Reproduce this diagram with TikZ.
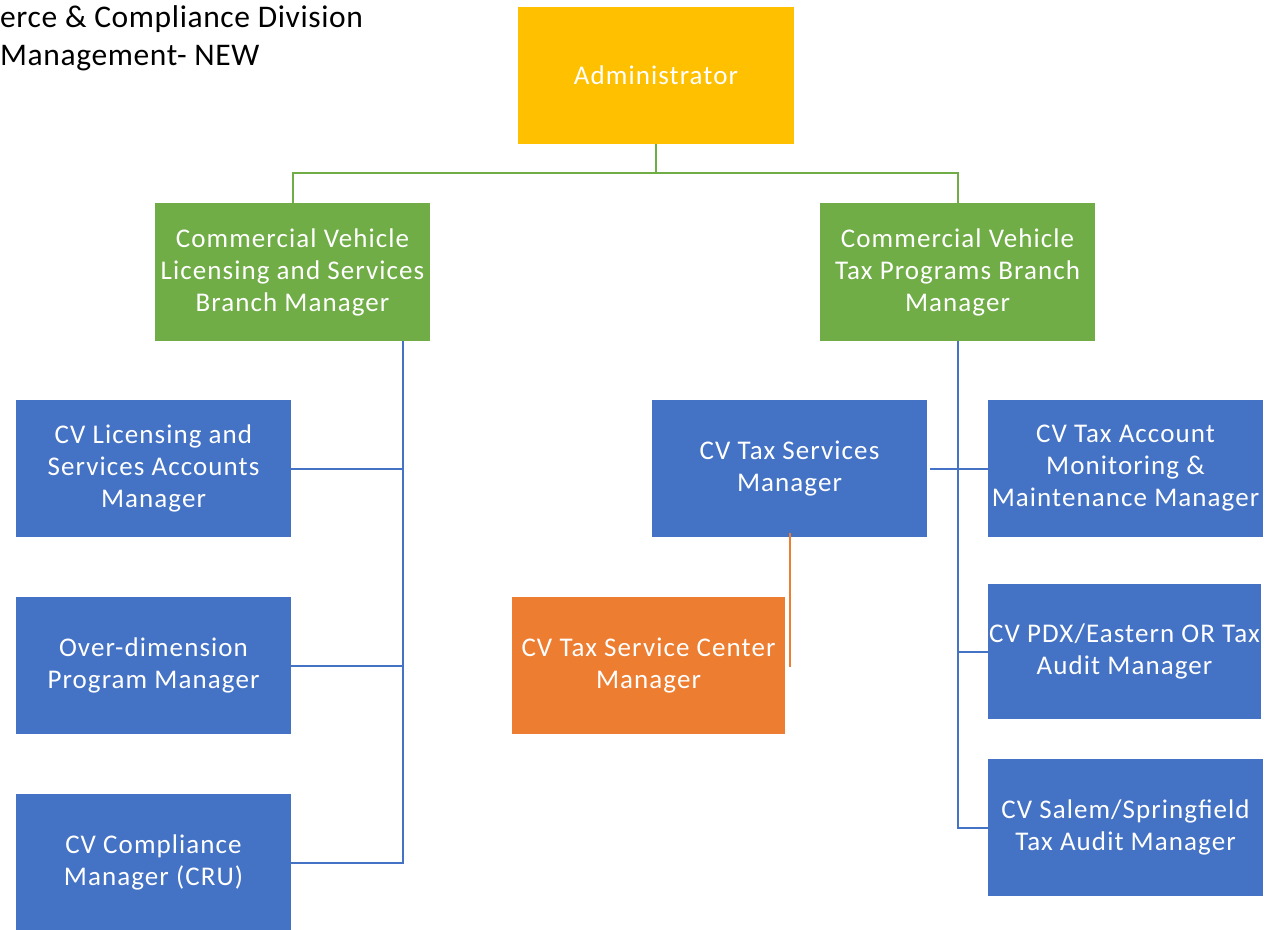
\documentclass[tikz,border=0pt]{standalone}
\usepackage{fontspec}
\setmainfont{Carlito}
\newfontfamily\boxfont[LetterSpace=4]{Carlito}
\newfontfamily\titlefont[LetterSpace=2]{Carlito}
\definecolor{cblue}{HTML}{4472C4}
\definecolor{cgreen}{HTML}{70AD47}
\definecolor{corange}{HTML}{ED7D31}
\definecolor{cgold}{HTML}{FFC000}
\begin{document}
\begin{tikzpicture}[x=1pt,y=-1pt,
  box/.style={rectangle,inner sep=0pt,text=white,align=center,
    font=\boxfont\fontsize{27}{32}\selectfont,minimum width=275pt,minimum height=137pt},
  bl/.style={box,fill=cblue},
  gr/.style={box,fill=cgreen,minimum height=138pt},
  og/.style={box,fill=corange,minimum width=273pt},
  au/.style={box,fill=cgold,minimum width=276pt},
  bline/.style={draw=cblue,line width=2pt},
  gline/.style={draw=cgreen,line width=2pt},
  oline/.style={draw=corange,line width=2pt}]
\useasboundingbox (0,0) rectangle (1273,929);
\node[anchor=west,font=\titlefont\fontsize{31.5}{38}\selectfont,align=left,inner sep=0pt] (title) at (0,38) {erce \& Compliance Division\\Management- NEW};
\node[au] (adm) at (656,75.5) {Administrator};
\node[gr] (lg) at (292.5,272) {Commercial Vehicle\\Licensing and Services\\Branch Manager};
\node[gr] (rg) at (957.5,272) {Commercial Vehicle\\Tax Programs Branch\\Manager};
\node[bl] (l1) at (153.5,468.5) {CV Licensing and\\Services Accounts\\Manager};
\node[bl] (l2) at (153.5,665.5) {Over-dimension\\Program Manager};
\node[bl] (l3) at (153.5,862.5) {CV Compliance\\Manager (CRU)};
\node[bl] (ts) at (789.5,468.5) {CV Tax Services\\Manager};
\node[bl] (ta) at (1125.5,468.5) {CV Tax Account\\Monitoring \&\\Maintenance Manager};
\node[bl,minimum width=273pt,minimum height=135pt] (pdx) at (1124.5,651.5) {CV PDX/Eastern OR Tax\\Audit Manager};
\node[bl] (sal) at (1125.5,827.5) {CV Salem/Springfield\\Tax Audit Manager};
\node[og] (tsc) at (648.5,665.5) {CV Tax Service Center\\Manager};
% green connectors
\draw[gline] (adm.south) -- ++(0,29) coordinate (gm) -| (lg.north);
\draw[gline] (gm) -| (rg.north);
% left trunk
\coordinate (lt) at ([xshift=110.5pt]lg.south);
\draw[bline] (lt) |- (l3.east);
\draw[bline] (l1.east) -| (lt);
\draw[bline] (l2.east) -| (lt);
% right trunk
\draw[bline] (rg.south) |- (sal.west);
\draw[bline] (rg.south) |- (pdx.west);
\draw[bline] ([xshift=3pt]ts.east) -- (ta.west);
% orange
\draw[oline] ([yshift=4pt]ts.south) |- ([xshift=4pt]tsc.east);
\end{tikzpicture}
\end{document}
